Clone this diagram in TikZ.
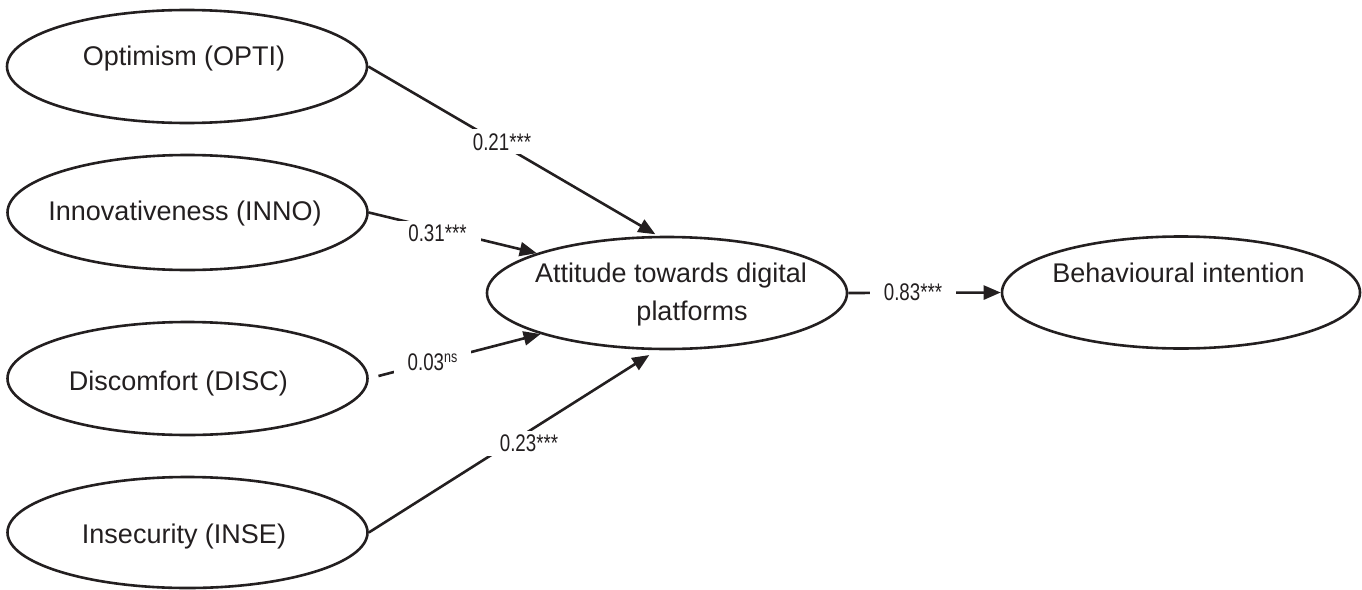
\documentclass[tikz,border=0pt]{standalone}
\usepackage{fontspec}
\setmainfont{Liberation Sans}
\newfontfamily\labfont[FakeStretch=0.78]{Liberation Sans}
\usetikzlibrary{shapes.geometric,arrows.meta}
\definecolor{ink}{RGB}{35,31,32}
\begin{document}
\begin{tikzpicture}[x=1pt,y=-1pt,
  ell/.style={draw=ink, ellipse, line width=2.6pt, minimum width=360pt, minimum height=113pt, inner sep=0pt},
  txt/.style={anchor=base, inner sep=0pt, text=ink, font=\fontsize{27}{39}\selectfont},
  lbl/.style={anchor=base, fill=white, text=ink, inner xsep=14pt, inner ysep=4pt, font=\labfont\fontsize{24}{24}\selectfont},
  conn/.style={draw=ink, line width=2.6pt, -{Triangle[length=17pt,width=14pt]}}]
\useasboundingbox (0,0) rectangle (1362,589);
% ellipses
\node[ell] (opti) at (187,66.5) {};
\node[ell, minimum height=115pt] (inno) at (187.5,212.5) {};
\node[ell] (disc) at (187.5,378.5) {};
\node[ell, minimum height=111pt] (inse) at (187.5,532.5) {};
\node[ell, minimum height=112pt] (att) at (667,293) {};
\node[ell, minimum width=358pt, minimum height=112pt] (beh) at (1181,292.5) {};
% texts
\node[txt] (topti) at (184,65) {Optimism (OPTI)};
\node[txt] (tinno) at (185,220) {Innovativeness (INNO)};
\node[txt] (tdisc) at (178.5,390) {Discomfort (DISC)};
\node[txt] (tinse) at (184,543) {Insecurity (INSE)};
\node[txt] (tatt1) at (671,282) {Attitude towards digital};
\node[txt] (tatt2) at (692,320) {platforms};
\node[txt] (tbeh) at (1178.5,282) {Behavioural intention};
% connectors
\draw[conn, shorten >=3pt] (opti.east) -- (att.99);
\draw[conn] (inno.east) -- (att.163);
\draw[conn, shorten <=10pt] (disc.east) -- (att.198);
\draw[conn, shorten >=9pt] (inse.east) -- (att.260);
\draw[conn] (att.east) -- (beh.west);
% labels
\node[lbl] (l21) at (502,150) {0.21***};
\node[lbl] (l31) at (437.5,241.5) {0.31***};
\node[lbl] (l03) at (432.5,370) {0.03\raisebox{8pt}{\labfont\fontsize{16}{16}\selectfont ns}};
\node[lbl] (l23) at (529,451.5) {0.23***};
\node[lbl] (l83) at (913,300) {0.83***};
\end{tikzpicture}
\end{document}
